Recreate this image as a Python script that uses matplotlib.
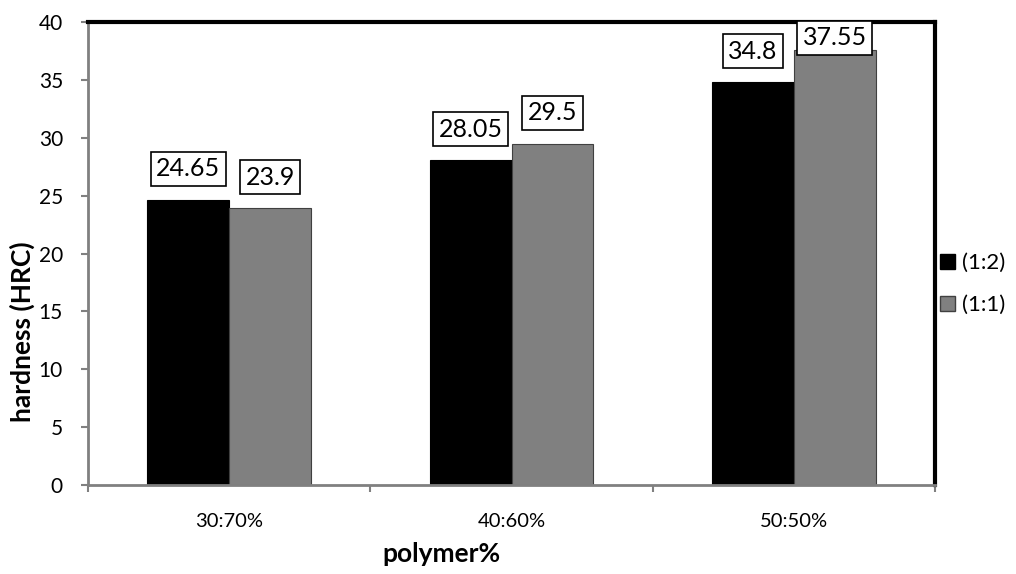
import numpy as np
import matplotlib.pyplot as plt
from matplotlib.patches import Patch

plt.rcParams['font.family'] = ['Lato', 'DejaVu Sans']

categories = ['30:70%', '40:60%', '50:50%']
series_names = ['(1:2)', '(1:1)']
ratio_12 = [24.65, 28.05, 34.8]
ratio_11 = [23.9, 29.5, 37.55]
label_12 = ['24.65', '28.05', '34.8']
label_11 = ['23.9', '29.5', '37.55']
yticks = [0, 5, 10, 15, 20, 25, 30, 35, 40]

fig = plt.figure(figsize=(10.16, 5.74), dpi=100)
ax = fig.add_axes([0.0866, 0.155, 0.8337, 0.8067])

x = np.arange(len(categories))
w = 0.29
bars1 = ax.bar(x - w / 2, ratio_12, w, color='black', edgecolor='black', linewidth=0.8)
bars2 = ax.bar(x + w / 2, ratio_11, w, color='#808080', edgecolor='#404040', linewidth=0.8)

# data labels in boxes; Excel pushes the top one down so it stays near the plot area
LABEL_FS = 18
PAD = 0.22
box = dict(boxstyle=f'square,pad={PAD}', facecolor='white', edgecolor='black', linewidth=1.2)
pad_pts = PAD * LABEL_FS
for bars, labels in [(bars1, label_12), (bars2, label_11)]:
    for b, lab in zip(bars, labels):
        ybox = min(b.get_height() + 1.2, 37.15)
        ax.annotate(lab, (b.get_x() + b.get_width() / 2, ybox),
                    xytext=(0, pad_pts), textcoords='offset points',
                    ha='center', va='bottom', fontsize=LABEL_FS, bbox=box,
                    annotation_clip=False, zorder=5)

ax.set_xlim(-0.5, 2.5)
ax.set_ylim(0, 40)
ax.set_yticks(yticks)
ax.set_xticks(x)
ax.set_xticklabels(categories)
ax.set_xticks([-0.5, 0.5, 1.5, 2.5], minor=True)
ax.tick_params(axis='x', which='major', length=0, pad=20, labelsize=14.5)
ax.tick_params(axis='x', which='minor', length=5, color='#808080', width=1.5)
ax.tick_params(axis='y', length=5, color='#808080', width=1.5, labelsize=15, pad=13)

for side in ['left', 'bottom']:
    ax.spines[side].set_color('#808080')
    ax.spines[side].set_linewidth(2)
for side in ['top', 'right']:
    ax.spines[side].set_color('black')
    ax.spines[side].set_linewidth(3)

fig.text(0.434, 0.035, 'polymer%', ha='center', va='center', fontsize=19, fontweight='bold')
fig.text(0.022, 0.423, 'hardness (HRC)', ha='center', va='center', rotation=90,
         fontsize=19, fontweight='bold')

handles = [Patch(facecolor='black', edgecolor='black'),
           Patch(facecolor='#808080', edgecolor='#404040')]
fig.legend(handles, series_names, loc='center left', bbox_to_anchor=(0.906, 0.505),
           frameon=False, fontsize=16, handlelength=0.65, handleheight=0.65,
           handletextpad=0.3, labelspacing=1.0)

fig.savefig('out.png', dpi=100)
